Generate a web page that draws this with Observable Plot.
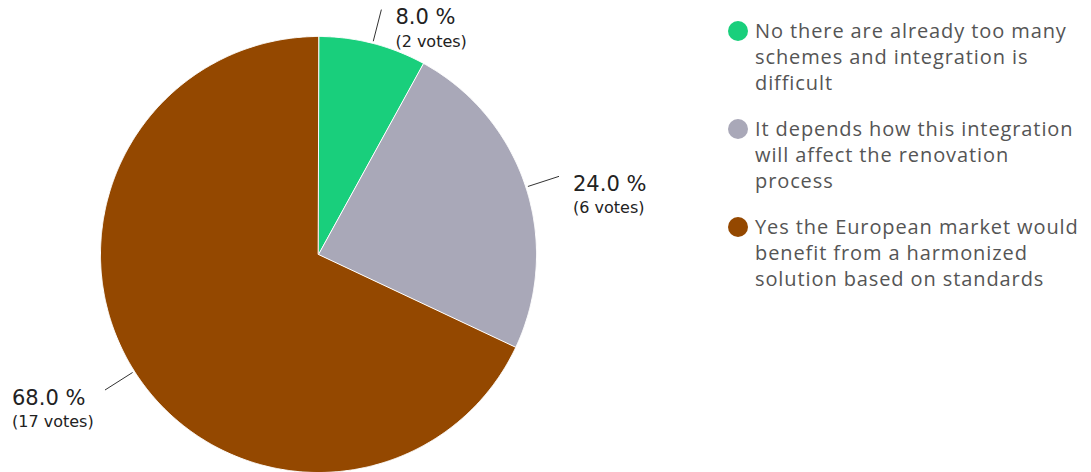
<!DOCTYPE html>
<html>
<head>
<meta charset="utf-8">
<script src="https://cdn.jsdelivr.net/npm/d3@7"></script>
<script src="https://cdn.jsdelivr.net/npm/@observablehq/plot@0.6"></script>
<style>
  html, body { margin: 0; padding: 0; background: #fff; }
  #wrap { position: relative; width: 1091px; height: 472px; overflow: hidden; }
  #chart { position: absolute; left: 0; top: 0; }
  #legend { position: absolute; left: 727px; top: 18px; width: 362px;
    font-family: "Open Sans", sans-serif; font-size: 20px; line-height: 26px; color: #555; letter-spacing: 0.9px; }
  .item { position: relative; padding-left: 28px; margin-bottom: 20px; }
  .sw { position: absolute; left: 1px; top: 3px; width: 20px; height: 20px; border-radius: 50%; }
</style>
</head>
<body>
<div id="wrap"><div id="chart"></div><div id="legend"></div></div>
<script>
const categories = [
  "No there are already too many schemes and integration is difficult",
  "It depends how this integration will affect the renovation process",
  "Yes the European market would benefit from a harmonized solution based on standards"
];
const votes = [2, 6, 17];
const colors = ["#19cf7c", "#a9a8b8", "#944800"];

const total = d3.sum(votes);
const arcs = d3.pie().sort(null)(votes);

// slice polygons in unit-circle coordinates (y up)
const poly = [];
arcs.forEach((a, i) => {
  const key = categories[i];
  poly.push({key, x: 0, y: 0});
  const n = Math.max(2, Math.ceil((a.endAngle - a.startAngle) / 0.005));
  for (let k = 0; k <= n; k++) {
    const t = a.startAngle + (a.endAngle - a.startAngle) * k / n;
    poly.push({key, x: Math.sin(t), y: Math.cos(t)});
  }
});

const labels = arcs.map((a, i) => {
  const m = (a.startAngle + a.endAngle) / 2;
  return {
    key: categories[i],
    side: Math.sin(m) >= 0 ? "right" : "left",
    x0: Math.sin(m) * 1.01, y0: Math.cos(m) * 1.01,
    x1: Math.sin(m) * 1.16, y1: Math.cos(m) * 1.16,
    pct: d3.format(".1f")(votes[i] / total * 100) + " %",
    v: "(" + votes[i] + " votes)"
  };
});

const font = "DejaVu Sans, sans-serif";
const textMarks = (side, dx) => [
  Plot.text(labels.filter(d => d.side === side), {x: "x1", y: "y1", text: "pct", textAnchor: "start",
    dx, dy: 8, fontSize: 21, fill: "#222", fontFamily: font, letterSpacing: 0.3}),
  Plot.text(labels.filter(d => d.side === side), {x: "x1", y: "y1", text: "v", textAnchor: "start",
    dx, dy: 32, fontSize: 16, fill: "#222", fontFamily: font, letterSpacing: 0.3})
];

const plot = Plot.plot({
  width: 720, height: 472,
  x: {domain: [-1, 1], range: [100, 536], axis: null},
  y: {domain: [-1, 1], range: [472, 36], axis: null},
  color: {domain: categories, range: colors},
  marks: [
    Plot.line(poly, {x: "x", y: "y", z: "key", fill: "key", stroke: "white", strokeWidth: 1, curve: "linear-closed"}),
    Plot.link(labels, {x1: "x0", y1: "y0", x2: "x1", y2: "y1", stroke: "#333", strokeWidth: 1}),
    ...textMarks("right", 14),
    ...textMarks("left", -93)
  ]
});
document.getElementById("chart").appendChild(plot);

const legend = document.getElementById("legend");
categories.forEach((c, i) => {
  const div = document.createElement("div");
  div.className = "item";
  const sw = document.createElement("span");
  sw.className = "sw";
  sw.style.background = colors[i];
  div.appendChild(sw);
  div.appendChild(document.createTextNode(c));
  legend.appendChild(div);
});
</script>
</body>
</html>
